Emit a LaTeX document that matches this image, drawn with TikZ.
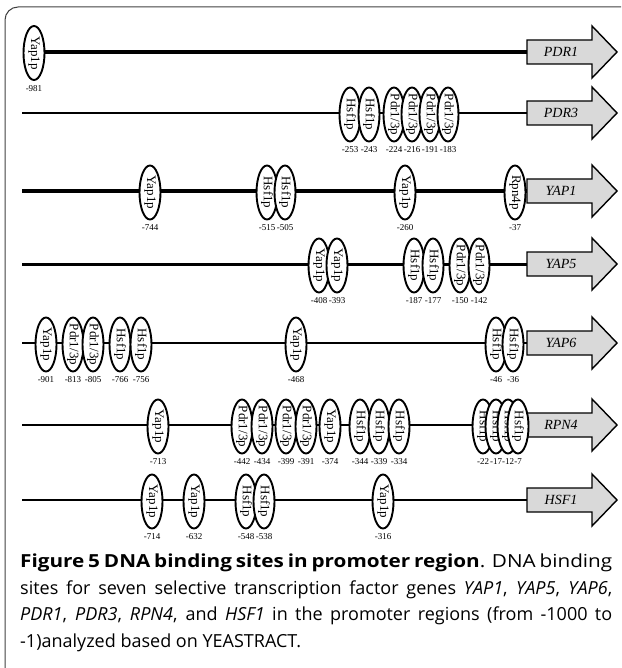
\documentclass[tikz,border=0pt]{standalone}
\usepackage{fontspec}
\usepackage{graphicx}
\setmainfont{Liberation Serif}
\newfontfamily\capfont{Open Sans}
\usetikzlibrary{shapes.geometric}
\tikzset{
  site/.style={ellipse, draw=black, line width=1.9pt, fill=white,
    minimum width=21pt, minimum height=54pt, inner sep=0pt},
  sitetext/.style={rotate=-90, inner sep=0pt, font=\fontsize{13}{13}\selectfont},
  sitepos/.style={anchor=north, inner sep=0pt, font=\fontsize{9}{9}\selectfont},
  dnathick/.style={line width=3.6pt},
  dnamid/.style={line width=3pt},
  dnathin/.style={line width=2.6pt},
  genebox/.style={draw=black, fill=black!15, line width=1.4pt, line join=miter},
  genetext/.style={inner sep=0pt, font=\fontsize{14}{14}\selectfont\itshape},
  frame/.style={draw=black!75, line width=1pt, rounded corners=13pt}
}
% name, x, y, factor, position label
\newcommand\bsite[5]{%
  \node[site] (#1) at (#2,#3) {};
  \node[sitetext] (#1t) at (#1.center) {#4};
  \node[sitepos] (#1p) at ([yshift=-4pt]#1.south) {#5};
}
% name, y, gene text
\newcommand\genearrow[3]{%
  \coordinate (#1tail) at (527,#2);
  \filldraw[genebox] (527,#2-12) -- (592,#2-12) -- (592,#2-26) -- (617,#2)
     -- (592,#2+26) -- (592,#2+12) -- (527,#2+12) -- cycle;
  \node[genetext] (#1) at (561,#2) {#3};
}
\begin{document}
\begin{tikzpicture}[x=1pt,y=-1pt]
\useasboundingbox (0,0) rectangle (621,668);
\clip (0,0) rectangle (621,668);
\draw[frame] (40,680) -- (5,680) -- (5,7) -- (650,7);

% ---------- PDR1 ----------
\coordinate (pdrAs) at (24,52);
\genearrow{pdrA}{52}{PDR1}
\draw[dnathick] (pdrAs) -- (pdrAtail);
\bsite{a1}{34}{53}{Yap1p}{-981}

% ---------- PDR3 ----------
\coordinate (pdrBs) at (22,113);
\genearrow{pdrB}{113}{PDR3}
\draw[dnathin] (pdrBs) -- (pdrBtail);
\bsite{b1}{350}{114.5}{Hsf1p}{-253}
\bsite{b2}{369}{114.5}{Hsf1p}{-243}
\bsite{b3}{394}{114.5}{Pdr1/3p}{-224}
\bsite{b4}{412}{114.5}{Pdr1/3p}{-216}
\bsite{b5}{430}{114.5}{Pdr1/3p}{-191}
\bsite{b6}{448}{114.5}{Pdr1/3p}{-183}

% ---------- YAP1 ----------
\coordinate (yapAs) at (22,191);
\genearrow{yapA}{191}{YAP1}
\draw[dnathick] (yapAs) -- (yapAtail);
\bsite{c1}{150}{192.5}{Yap1p}{-744}
\bsite{c2}{267}{192.5}{Hsf1p}{-515}
\bsite{c3}{285}{192.5}{Hsf1p}{-505}
\bsite{c4}{405}{192.5}{Yap1p}{-260}
\bsite{c5}{515}{192.5}{Rpn4p}{-37}

% ---------- YAP5 ----------
\coordinate (yapBs) at (22,264);
\genearrow{yapB}{264}{YAP5}
\draw[dnamid] (yapBs) -- (yapBtail);
\bsite{d1}{319}{265.5}{Yap1p}{-408}
\bsite{d2}{337}{265.5}{Yap1p}{-393}
\bsite{d3}{414}{265.5}{Hsf1p}{-187}
\bsite{d4}{433}{265.5}{Hsf1p}{-177}
\bsite{d5}{460}{265.5}{Pdr1/3p}{-150}
\bsite{d6}{479}{265.5}{Pdr1/3p}{-142}

% ---------- YAP6 ----------
\coordinate (yapCs) at (22,343);
\genearrow{yapC}{343}{YAP6}
\draw[dnathin] (yapCs) -- (yapCtail);
\bsite{e1}{46}{344.5}{Yap1p}{-901}
\bsite{e2}{73}{344.5}{Pdr1/3p}{-813}
\bsite{e3}{93}{344.5}{Pdr1/3p}{-805}
\bsite{e4}{120}{344.5}{Hsf1p}{-766}
\bsite{e5}{141}{344.5}{Hsf1p}{-756}
\bsite{e6}{296}{344.5}{Yap1p}{-468}
\bsite{e7}{496}{344.5}{Hsf1p}{-46}
\bsite{e8}{513}{344.5}{Hsf1p}{-36}

% ---------- RPN4 ----------
\coordinate (rpnAs) at (22,425);
\genearrow{rpnA}{425}{RPN4}
\draw[dnathin] (rpnAs) -- (rpnAtail);
\bsite{f1}{158}{426.5}{Yap1p}{-713}
\bsite{f2}{242}{426.5}{Pdr1/3p}{-442}
\bsite{f3}{262}{426.5}{Pdr1/3p}{-434}
\bsite{f4}{286}{426.5}{Pdr1/3p}{-399}
\bsite{f5}{306}{426.5}{Pdr1/3p}{-391}
\bsite{f6}{330}{426.5}{Yap1p}{-374}
\bsite{f7}{360}{426.5}{Hsf1p}{-344}
\bsite{f8}{379}{426.5}{Hsf1p}{-339}
\bsite{f9}{399}{426.5}{Hsf1p}{-334}
\bsite{f10}{483}{426.5}{Hsf1p}{-22}
\bsite{f11}{496}{426.5}{Hsf1p}{-17}
\bsite{f12}{508}{426.5}{Hsf1p}{-12}
\bsite{f13}{518}{426.5}{Hsf1p}{-7}

% ---------- HSF1 ----------
\coordinate (hsfAs) at (22,500);
\genearrow{hsfA}{500}{HSF1}
\draw[dnathin] (hsfAs) -- (hsfAtail);
\bsite{g1}{152}{501.5}{Yap1p}{-714}
\bsite{g2}{194}{501.5}{Yap1p}{-632}
\bsite{g3}{246}{501.5}{Hsf1p}{-548}
\bsite{g4}{264}{501.5}{Hsf1p}{-538}
\bsite{g5}{383}{501.5}{Yap1p}{-316}

% ---------- caption ----------
\node[anchor=north west, inner sep=0pt, align=left,
      font=\capfont\fontsize{18}{26.5}\selectfont] (cap) at (20,554) {%
\scalebox{1.15}[1]{\makebox[514.8pt][s]{\textbf{Figure 5 DNA binding sites in promoter region}. DNA binding}}\\
\makebox[592pt][s]{sites for seven selective transcription factor genes \textit{YAP1}, \textit{YAP5}, \textit{YAP6},}\\
\makebox[592pt][s]{\textit{PDR1}, \textit{PDR3}, \textit{RPN4}, and \textit{HSF1} in the promoter regions (from -1000 to}\\
-1)analyzed based on YEASTRACT.};
\end{tikzpicture}
\end{document}
